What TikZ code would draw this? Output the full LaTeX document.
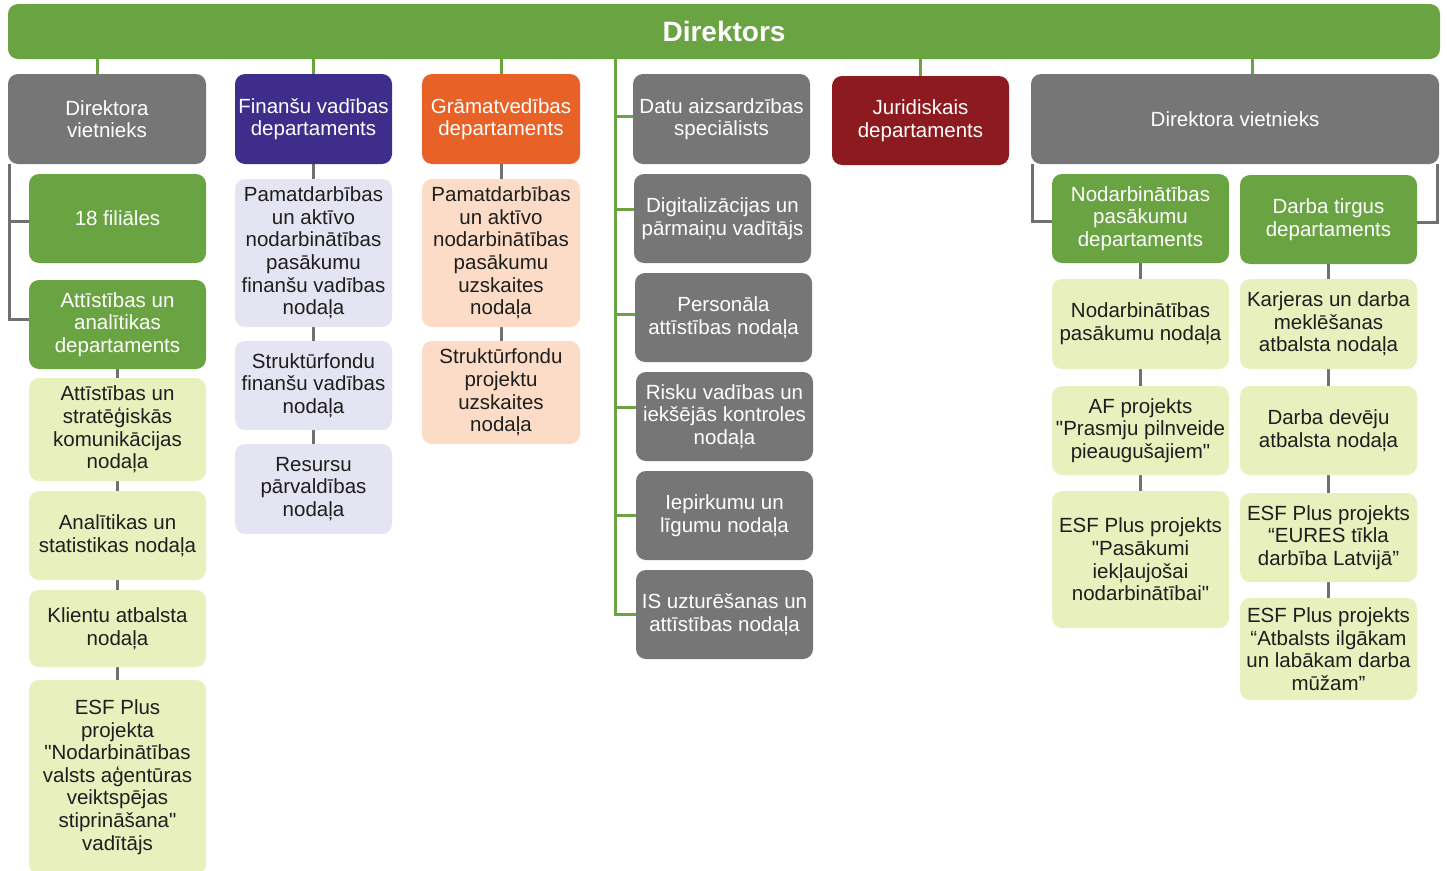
\documentclass[tikz,border=0pt]{standalone}
\usepackage{fontspec}
\setmainfont{Liberation Sans}
\usetikzlibrary{backgrounds}
\definecolor{cgreen}{HTML}{6AA342}
\definecolor{cgray}{HTML}{767676}
\definecolor{cpurple}{HTML}{3E2D8A}
\definecolor{corange}{HTML}{E86126}
\definecolor{cred}{HTML}{8C1A1E}
\definecolor{lgreen}{HTML}{E8F0BE}
\definecolor{lav}{HTML}{E4E4F2}
\definecolor{peach}{HTML}{FCDCC6}
\definecolor{lgray}{HTML}{707070}
\definecolor{txt}{HTML}{1E1E1E}
\newcommand\fs{\fontsize{20.5}{22.6}\selectfont}
\newcommand\dq{\XeTeXglyph\XeTeXcharglyph"22\relax}
\newcommand{\bx}[7]{\node[#2, minimum width={(#5-#3)*1pt}, minimum height={(#6-#4)*1pt}] (#1) at ({(#3+#5)/2},{(#4+#6)/2+1}) {#7};}
\tikzset{
  boxbase/.style={rounded corners=10pt, inner sep=1pt, align=center, font=\fs},
  dk/.style={boxbase, text=white},
  lt/.style={boxbase, text=txt},
  gl/.style={draw=cgreen, line width=3pt},
  cl/.style={draw=lgray, line width=3pt},
}
\begin{document}
\begin{tikzpicture}[x=1pt,y=-1pt]
\useasboundingbox (0,0) rectangle (1447,870);
% top
\node[dk, fill=cgreen, minimum width=1432pt, minimum height=55pt] (top) at (724,31.5) {\bfseries\fontsize{28}{32}\selectfont Direktors};
% left column
\bx{dvA}{dk,fill=cgray}{8}{73}{206}{163}{Direktora\\vietnieks}
\bx{fil}{dk,fill=cgreen}{29}{173}{206}{262}{18 filiāles}
\bx{aad}{dk,fill=cgreen}{29}{279}{206}{368}{Attīstības un\\analītikas\\departaments}
\bx{ask}{lt,fill=lgreen}{29}{377}{206}{480}{Attīstības un\\stratēģiskās\\komunikācijas\\nodaļa}
\bx{asn}{lt,fill=lgreen}{29}{490}{206}{579}{Analītikas un\\statistikas nodaļa}
\bx{kan}{lt,fill=lgreen}{29}{589}{206}{666}{Klientu atbalsta\\nodaļa}
\bx{esfa}{lt,fill=lgreen}{29}{679}{206}{873}{ESF Plus\\projekta\\\dq Nodarbinātības\\valsts aģentūras\\veiktspējas\\stiprināšana\dq\\vadītājs}
% finance
\bx{fvd}{dk,fill=cpurple}{235}{73}{392}{163}{Finanšu vadības\\departaments}
\bx{pfv}{lt,fill=lav}{235}{178}{392}{326}{Pamatdarbības\\un aktīvo\\nodarbinātības\\pasākumu\\finanšu vadības\\nodaļa}
\bx{sfv}{lt,fill=lav}{235}{340}{392}{429}{Struktūrfondu\\finanšu vadības\\nodaļa}
\bx{rpn}{lt,fill=lav}{235}{443}{392}{533}{Resursu\\pārvaldības\\nodaļa}
% accounting
\bx{gvd}{dk,fill=corange}{422}{73}{580}{163}{Grāmatvedības\\departaments}
\bx{pun}{lt,fill=peach}{422}{178}{580}{326}{Pamatdarbības\\un aktīvo\\nodarbinātības\\pasākumu\\uzskaites\\nodaļa}
\bx{spu}{lt,fill=peach}{422}{340}{580}{443}{Struktūrfondu\\projektu\\uzskaites\\nodaļa}
% middle
\bx{das}{dk,fill=cgray}{633}{73}{810}{163}{Datu aizsardzības\\speciālists}
\bx{dpv}{dk,fill=cgray}{634}{173}{811}{262}{Digitalizācijas un\\pārmaiņu vadītājs}
\bx{pan}{dk,fill=cgray}{635}{272}{812}{361}{Personāla\\attīstības nodaļa}
\bx{rvk}{dk,fill=cgray}{636}{371}{813}{460}{Risku vadības un\\iekšējās kontroles\\nodaļa}
\bx{iln}{dk,fill=cgray}{636}{470}{813}{559}{Iepirkumu un\\līgumu nodaļa}
\bx{isu}{dk,fill=cgray}{636}{569}{813}{658}{IS uzturēšanas un\\attīstības nodaļa}
% legal
\bx{jur}{dk,fill=cred}{832}{75}{1009}{164}{Juridiskais\\departaments}
% right
\bx{dvB}{dk,fill=cgray}{1031}{73}{1439}{163}{Direktora vietnieks}
\bx{npd}{dk,fill=cgreen}{1052}{173}{1229}{262}{Nodarbinātības\\pasākumu\\departaments}
\bx{dtd}{dk,fill=cgreen}{1240}{174}{1417}{263}{Darba tirgus\\departaments}
\bx{npn}{lt,fill=lgreen}{1052}{278}{1229}{368}{Nodarbinātības\\pasākumu nodaļa}
\bx{afp}{lt,fill=lgreen}{1052}{385}{1229}{474}{AF projekts\\\dq Prasmju pilnveide\\pieaugušajiem\dq}
\bx{esfb}{lt,fill=lgreen}{1052}{490}{1229}{627}{ESF Plus projekts\\\dq Pasākumi\\iekļaujošai\\nodarbinātībai\dq}
\bx{kdm}{lt,fill=lgreen}{1240}{278}{1417}{368}{Karjeras un darba\\meklēšanas\\atbalsta nodaļa}
\bx{ddn}{lt,fill=lgreen}{1240}{385}{1417}{474}{Darba devēju\\atbalsta nodaļa}
\bx{eur}{lt,fill=lgreen}{1240}{492}{1417}{581}{ESF Plus projekts\\“EURES tīkla\\darbība Latvijā”}
\bx{aid}{lt,fill=lgreen}{1240}{597}{1417}{699}{ESF Plus projekts\\“Atbalsts ilgākam\\un labākam darba\\mūžam”}
\coordinate (tk) at (615,0);
\coordinate (dva) at ([xshift=-10pt]dvA.north);
\coordinate (dvb) at ([xshift=17pt]dvB.north);
\begin{scope}[on background layer]
% green from top
\draw[gl] (top.south -| dva) -- (dva);
\draw[gl] (top.south -| fvd.north) -- (fvd.north);
\draw[gl] (top.south -| gvd.north) -- (gvd.north);
\draw[gl] (top.south -| jur.north) -- (jur.north);
\draw[gl] (top.south -| dvb) -- (dvb);
\draw[gl] (top.south -| tk) |- ([yshift=3pt]das.west);
\draw[gl] (top.south -| tk) |- ([yshift=9pt]dpv.west);
\draw[gl] (top.south -| tk) |- ([yshift=3pt]pan.west);
\draw[gl] (top.south -| tk) |- ([yshift=9pt]rvk.west);
\draw[gl] (top.south -| tk) |- (iln.west);
\draw[gl] (top.south -| tk) |- (isu.west);
% gray
\draw[cl] ([xshift=2pt]dvA.south west) |- ([yshift=-3pt]fil.west);
\draw[cl] ([xshift=2pt]dvA.south west) |- ([yshift=5pt]aad.west);
\draw[cl] (aad.south) -- (ask.north);
\draw[cl] (ask.south) -- (asn.north);
\draw[cl] (asn.south) -- (kan.north);
\draw[cl] (kan.south) -- (esfa.north);
\draw[cl] (fvd.south) -- (pfv.north);
\draw[cl] (pfv.south) -- (sfv.north);
\draw[cl] (sfv.south) -- (rpn.north);
\draw[cl] (gvd.south) -- (pun.north);
\draw[cl] (pun.south) -- (spu.north);
\draw[cl] ([xshift=2pt]dvB.south west) |- ([yshift=-3pt]npd.west);
\draw[cl] ([xshift=-2pt]dvB.south east) |- ([yshift=-3pt]dtd.east);
\draw[cl] (npd.south) -- (npn.north);
\draw[cl] (npn.south) -- (afp.north);
\draw[cl] (afp.south) -- (esfb.north);
\draw[cl] (dtd.south) -- (kdm.north);
\draw[cl] (kdm.south) -- (ddn.north);
\draw[cl] (ddn.south) -- (eur.north);
\draw[cl] (eur.south) -- (aid.north);
\end{scope}
\end{tikzpicture}
\end{document}
